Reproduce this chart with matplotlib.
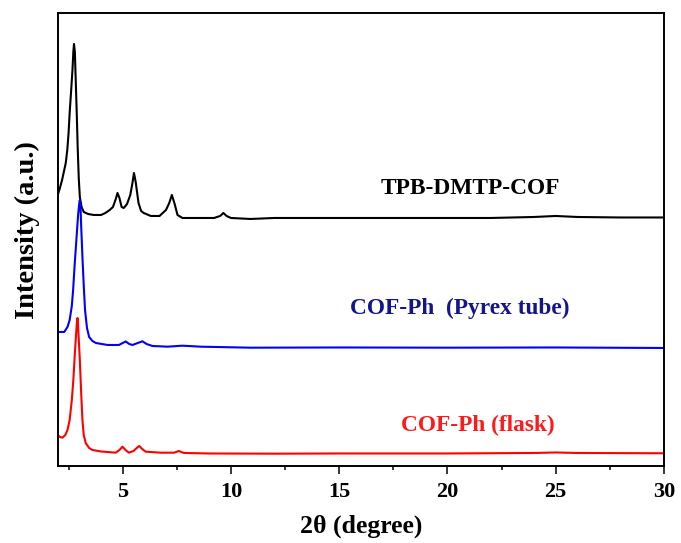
import matplotlib
matplotlib.use("Agg")
import matplotlib.pyplot as plt
from matplotlib.ticker import MultipleLocator

# 2theta (degree) and stacked intensity (a.u.)
x_tpb = [2.0, 2.1, 2.2, 2.3, 2.37, 2.44, 2.5, 2.55, 2.62, 2.68, 2.72, 2.75, 2.79, 2.83, 2.88, 2.92, 2.97, 3.02,
         3.1, 3.2, 3.4, 3.66, 4.0, 4.2, 4.4, 4.55, 4.68, 4.76, 4.85, 4.95, 5.05, 5.2, 5.35, 5.45, 5.52, 5.6,
         5.73, 5.85, 5.97, 6.3, 6.7, 7.0, 7.15, 7.27, 7.4, 7.53, 7.76, 8.5, 9.22, 9.5, 9.65, 9.8, 10.0, 10.9,
         12, 14, 16, 18, 20, 22, 24, 25, 26, 28, 30]
y_tpb = [275, 282, 290, 300, 307, 320, 337, 357, 380, 400, 418, 426, 418, 390, 355, 323, 292, 273,
         263, 258, 256, 255, 255, 257, 260, 263, 271, 277, 272, 263, 262, 266, 275, 287, 297, 288,
         267, 259, 257, 254, 254, 260, 267, 275, 266, 255, 252, 252, 252, 254, 257, 254, 252, 251,
         252, 252, 252, 252, 252, 252, 253, 254, 253, 252.5, 252.5]

x_pyrex = [2.0, 2.3, 2.45, 2.55, 2.65, 2.71, 2.78, 2.86, 2.94, 2.99, 3.02, 3.05, 3.08, 3.14, 3.2, 3.26, 3.35,
           3.45, 3.6, 3.76, 4.3, 4.83, 5.0, 5.14, 5.3, 5.45, 5.7, 5.91, 6.1, 6.37, 7.07, 7.76, 8.6, 10.9,
           15, 20, 25, 30]
y_pyrex = [138, 138, 143, 150, 164, 180, 205, 230, 255, 266, 270, 264, 245, 213, 185, 160, 142,
           133, 129, 127, 125, 125, 127, 128.5, 126, 125, 127, 128.7, 126, 124, 123.3, 124.3, 123.3, 122.3,
           122.5, 122.3, 122.5, 122]

x_flask = [2.0, 2.1, 2.22, 2.35, 2.45, 2.55, 2.65, 2.72, 2.8, 2.86, 2.89, 2.91, 2.93, 2.96, 3.02, 3.08, 3.14,
           3.2, 3.29, 3.45, 3.6, 4.0, 4.68, 4.85, 4.99, 5.15, 5.29, 5.5, 5.65, 5.76, 5.9, 6.06, 6.76, 7.37,
           7.5, 7.6, 7.7, 7.83, 9, 12, 15, 20, 24, 25, 26, 30]
y_flask = [35, 33, 32.3, 35, 40, 50, 70, 90, 120, 140, 149, 152, 149, 135, 110, 78, 50,
           35, 27, 22, 20, 18.5, 17.3, 20, 23.3, 19.5, 17.3, 19, 22, 24, 21, 18.3, 17.3, 17.3,
           18.2, 19, 18, 17, 16.5, 16.3, 16.5, 16.5, 17, 17.5, 17, 16.7]

labels = ["TPB-DMTP-COF", "COF-Ph  (Pyrex tube)", "COF-Ph (flask)"]
line_colors = ["black", "#0000ff", "#ff0000"]
text_colors = ["black", "#14148c", "#ff1a1a"]
xticks = [5, 10, 15, 20, 25, 30]

font = "Liberation Serif"
fig = plt.figure(figsize=(6.81, 5.43), dpi=100)
ax = fig.add_axes([0.0848, 0.1424, 0.8902, 0.8337])

for xs, ys, c in zip([x_tpb, x_pyrex, x_flask], [y_tpb, y_pyrex, y_flask], line_colors):
    ax.plot(xs, ys, color=c, lw=1.5, solid_joinstyle="round")

ax.set_xlim(2, 30)
ax.set_ylim(4.3, 457)
ax.set_xticks(xticks)
ax.xaxis.set_minor_locator(MultipleLocator(2.5))
ax.set_yticks([])
ax.tick_params(axis="x", which="major", direction="out", length=5.8, width=1.1, pad=6)
ax.tick_params(axis="x", which="minor", direction="out", length=3, width=1.1)
for lab in ax.get_xticklabels():
    lab.set_fontfamily(font)
    lab.set_fontweight("bold")
    lab.set_fontsize(16)
for s in ax.spines.values():
    s.set_linewidth(1.4)

ax.set_xlabel("2θ (degree)", fontfamily=font, fontweight="bold", fontsize=18.5, labelpad=9)
ax.set_ylabel("Intensity (a.u.)", fontfamily=font, fontweight="bold", fontsize=20.5)
ax.yaxis.set_label_coords(-0.03, 0.52)

text_pos = [(21.04, 281), (20.58, 162), (21.41, 45)]
for (tx, ty), t, c in zip(text_pos, labels, text_colors):
    ax.text(tx, ty, t, color=c, fontfamily=font, fontweight="bold", fontsize=16.8,
            ha="center", va="center")

fig.savefig("out.png", dpi=100)
